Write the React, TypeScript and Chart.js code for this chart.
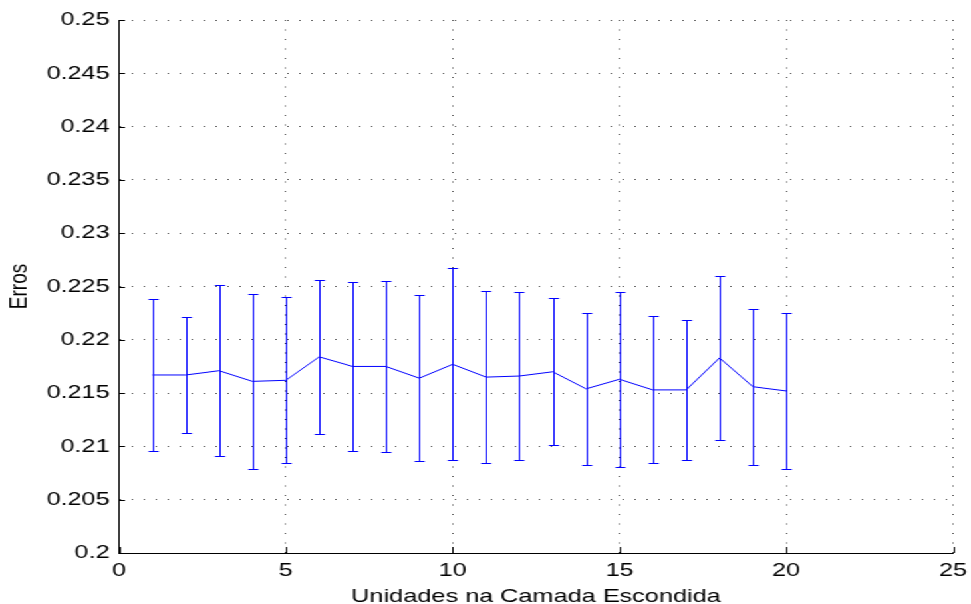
import React, { useEffect, useRef } from "react";
import { Chart, registerables } from "chart.js";

Chart.register(...registerables);

// Hidden-layer sizes on the x axis
const units = [1, 2, 3, 4, 5, 6, 7, 8, 9, 10, 11, 12, 13, 14, 15, 16, 17, 18, 19, 20];
// Mean error per size
const errMean = [
  0.2167, 0.2167, 0.2171, 0.2161, 0.2162, 0.2184, 0.2175, 0.2175, 0.2164, 0.2177,
  0.2165, 0.2166, 0.217, 0.2154, 0.2163, 0.2153, 0.2153, 0.2183, 0.2156, 0.2152,
];
// Half-length of each error bar
const errDev = [
  0.0071, 0.0054, 0.008, 0.0082, 0.0078, 0.0072, 0.0079, 0.008, 0.0078, 0.009,
  0.0081, 0.0079, 0.0069, 0.0071, 0.0082, 0.0069, 0.0066, 0.0077, 0.0073, 0.0073,
];

const xTicks = [0, 5, 10, 15, 20, 25];
const xTickLabels = ["0", "5", "10", "15", "20", "25"];
const yTicks = [0.2, 0.205, 0.21, 0.215, 0.22, 0.225, 0.23, 0.235, 0.24, 0.245, 0.25];
const yTickLabels = [
  "0.2", "0.205", "0.21", "0.215", "0.22", "0.225", "0.23", "0.235", "0.24", "0.245", "0.25",
];

const BLUE = "rgb(0,0,255)";
const FONT = '"Liberation Sans", Arial, Helvetica, sans-serif';
const W = 730;
const H = 604;
const STRETCH = 971 / W;

const errorBars = {
  id: "errorBars",
  afterDatasetsDraw(chart: any) {
    const { ctx, scales } = chart;
    const x = scales.x;
    const y = scales.y;
    const cap = 3.8;
    ctx.save();
    ctx.strokeStyle = BLUE;
    ctx.lineWidth = 1;
    units.forEach((u, i) => {
      const px = Math.round(x.getPixelForValue(u)) + 0.5;
      const top = Math.round(y.getPixelForValue(errMean[i] + errDev[i])) + 0.5;
      const bot = Math.round(y.getPixelForValue(errMean[i] - errDev[i])) + 0.5;
      ctx.beginPath();
      ctx.moveTo(px, top);
      ctx.lineTo(px, bot);
      ctx.moveTo(px - cap, top);
      ctx.lineTo(px + cap, top);
      ctx.moveTo(px - cap, bot);
      ctx.lineTo(px + cap, bot);
      ctx.stroke();
    });
    ctx.restore();
  },
};

// Tick marks pointing into the plot area
const innerTicks = {
  id: "innerTicks",
  afterDraw(chart: any) {
    const { ctx, chartArea, scales } = chart;
    ctx.save();
    ctx.strokeStyle = "#000";
    ctx.lineWidth = 1;
    ctx.beginPath();
    scales.x.ticks.forEach((t: any) => {
      const px = Math.round(scales.x.getPixelForValue(t.value)) + 0.5;
      ctx.moveTo(px, chartArea.bottom);
      ctx.lineTo(px, chartArea.bottom - 6);
    });
    scales.y.ticks.forEach((t: any) => {
      const py = Math.round(scales.y.getPixelForValue(t.value)) + 0.5;
      ctx.moveTo(chartArea.left, py);
      ctx.lineTo(chartArea.left + 4.5, py);
    });
    ctx.stroke();
    ctx.restore();
  },
};

export default function App() {
  const ref = useRef<HTMLCanvasElement | null>(null);

  useEffect(() => {
    if (!ref.current) return;
    const chart = new Chart(ref.current, {
      type: "line",
      data: {
        datasets: [
          {
            data: units.map((u, i) => ({ x: u, y: errMean[i] })),
            borderColor: BLUE,
            borderWidth: 1,
            pointRadius: 0,
            tension: 0,
            fill: false,
          },
        ],
      },
      options: {
        responsive: false,
        animation: false,
        devicePixelRatio: 1,
        layout: { padding: { top: 20, right: 13.5, bottom: 0, left: 0 } },
        plugins: { legend: { display: false }, tooltip: { enabled: false } },
        scales: {
          x: {
            type: "linear",
            min: 0,
            max: 25,
            afterBuildTicks: (s: any) => {
              s.ticks = xTicks.map((v) => ({ value: v }));
            },
            afterFit: (s: any) => {
              s.height = 51;
              s.paddingLeft = 0;
              s.paddingRight = 0;
            },
            ticks: {
              color: "#000",
              padding: 6,
              font: { family: FONT, size: 19 },
              callback: (_v: any, i: number) => xTickLabels[i],
            },
            grid: {
              color: "rgba(0,0,0,0.75)",
              lineWidth: 1,
              drawTicks: false,
              tickLength: 0,
            },
            border: { display: true, color: "#000", width: 1, dash: [1, 8.5] },
            title: {
              display: true,
              text: "Unidades na Camada Escondida",
              color: "#000",
              font: { family: FONT, size: 19, lineHeight: 0.74 },
              padding: { top: 0, bottom: 0 },
            },
          },
          y: {
            type: "linear",
            min: 0.2,
            max: 0.25,
            afterBuildTicks: (s: any) => {
              s.ticks = yTicks.map((v) => ({ value: v }));
            },
            afterFit: (s: any) => {
              s.width = 89.5;
            },
            ticks: {
              color: "#000",
              padding: 7,
              font: { family: FONT, size: 19 },
              callback: (_v: any, i: number) => yTickLabels[i],
            },
            grid: {
              color: "rgba(0,0,0,0.75)",
              lineWidth: 1,
              drawTicks: false,
              tickLength: 0,
            },
            border: { display: true, color: "#000", width: 1, dash: [1, 8] },
            title: {
              display: true,
              text: "Erros",
              color: "#000",
              font: { family: FONT, size: 19 },
              padding: { top: 3, bottom: 0 },
            },
          },
        },
      },
      plugins: [errorBars, innerTicks],
    });
    return () => chart.destroy();
  }, []);

  return (
    <div
      style={{
        position: "fixed",
        left: 0,
        top: 0,
        width: W,
        height: H,
        background: "#fff",
        transform: `scale(${STRETCH}, 1)`,
        transformOrigin: "0 0",
      }}
    >
      <canvas ref={ref} width={W} height={H} style={{ width: W, height: H, display: "block" }} />
    </div>
  );
}
